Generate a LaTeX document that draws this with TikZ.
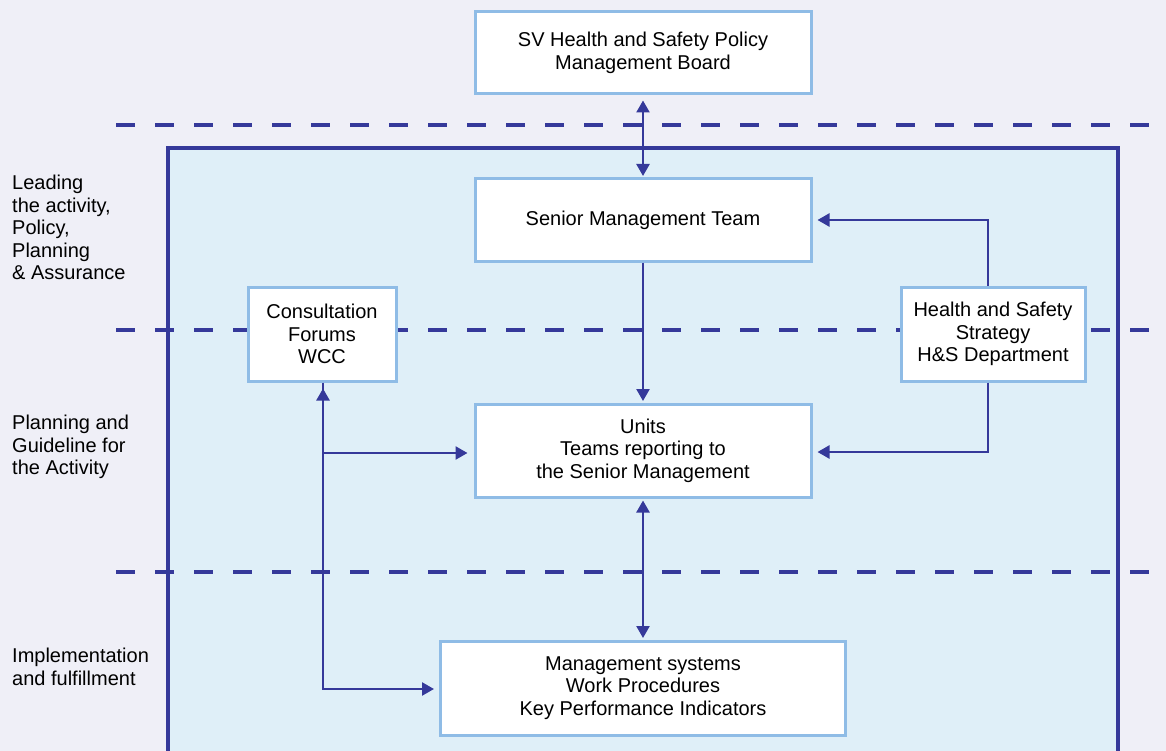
\documentclass[tikz,border=0pt]{standalone}
\usepackage{fontspec}
\setmainfont{Liberation Sans}
\usetikzlibrary{arrows.meta}
\definecolor{bgc}{HTML}{EFEFF7}
\definecolor{panel}{HTML}{DFEFF8}
\definecolor{navy}{HTML}{35399A}
\definecolor{boxline}{HTML}{8FBCE6}
\begin{document}
\begin{tikzpicture}[x=1pt,y=-1pt,
  box/.style={draw=boxline,line width=3pt,fill=white,align=center,inner sep=0pt,
    font=\fontsize{20}{22.5}\selectfont},
  lbl/.style={anchor=north west,align=left,inner sep=0pt,font=\fontsize{20}{22.5}\selectfont},
  sep/.style={navy,line width=3.5pt,dash pattern=on 19pt off 20pt},
  conn/.style={navy,line width=2.4pt,-{Triangle[length=12pt,width=13pt]}},
  dconn/.style={navy,line width=2.4pt,{Triangle[length=12pt,width=13pt]}-{Triangle[length=12pt,width=13pt]}}]
\useasboundingbox (0,0) rectangle (1166,751);
\fill[bgc] (0,0) rectangle (1166,751);
\fill[panel] (168,148) rectangle (1118,760);
\draw[navy,line width=4pt] (168,760) -- (168,148) -- (1118,148) -- (1118,760);
\draw[sep] (116,125) -- (1166,125);
\draw[sep] (116,330) -- (1166,330);
\draw[sep] (116,572) -- (1166,572);
\node[box,minimum width=336pt,minimum height=82pt] (board) at (643,53) {SV Health and Safety Policy\\Management Board};
\node[box,minimum width=336pt,minimum height=82pt] (smt) at (643,220) {Senior Management Team};
\node[box,minimum width=148pt,minimum height=94pt] (cons) at (322,334) {Consultation\\Forums\\WCC};
\node[box,minimum width=184pt,minimum height=94pt] (hs) at (993,334) {Health and Safety\\Strategy\\H\&S Department};
\node[box,minimum width=336pt,minimum height=93pt] (units) at (643,450.5) {Units\\Teams reporting to\\the Senior Management};
\node[box,minimum width=405pt,minimum height=94pt] (mgmt) at (643,688) {Management systems\\Work Procedures\\Key Performance Indicators};
\node[lbl] (l1) at (12,175) {Leading\\the activity,\\Policy,\\Planning\\\& Assurance};
\node[lbl] (l2) at (12,415) {Planning and\\Guideline for\\the Activity};
\node[lbl] (l3) at (12,648) {Implementation\\and fulfillment};
\coordinate (c1) at (323,689);
\coordinate (c2) at (323,453);
\coordinate (h1) at (988,220);
\coordinate (h2) at (988,452);
\draw[dconn,shorten <=5pt,shorten >=1.5pt] (board.south) -- (smt.north);
\draw[conn,shorten >=1.5pt] (smt.south) -- (units.north);
\draw[dconn,shorten <=2pt,shorten >=1.5pt] (units.south) -- (mgmt.north);
\draw[conn,shorten >=5pt] (hs.north -| h1) |- (smt.east);
\draw[conn,shorten >=5pt] (hs.south -| h2) |- (h2) -- (h2 -| units.east);
\draw[conn,shorten >=5pt] (cons.south -| c1) -- (c1) -- (c1 -| mgmt.west);
\draw[navy,line width=2.4pt,-{Triangle[length=12pt,width=13pt]}] (c1) -- ([yshift=-6pt]cons.south -| c1);
\draw[conn,shorten >=6pt] (c2) -- (c2 -| units.west);
\end{tikzpicture}
\end{document}
